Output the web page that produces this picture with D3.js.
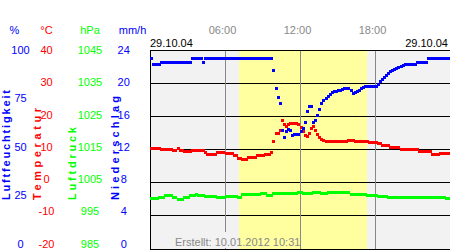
<!DOCTYPE html>
<html>
<head>
<meta charset="utf-8">
<script src="https://cdn.jsdelivr.net/npm/d3@7"></script>
<style>
  body { margin: 0; background: #fff; }
  svg { display: block; font-family: "Liberation Sans", Arial, sans-serif; }
</style>
</head>
<body>
<div id="chart"></div>
<script>
// Messwerte 29.10.04, alle 10 Minuten (00:00 .. 23:50)
var humidity = [
  96, 93, 93, 93, 93, 94, 94, 94, 94, 94, 94, 94,
  94, 94, 94, 94, 94, 94, 94, 94, 96, 96, 96, 96,
  96, 94, 96, 96, 96, 96, 96, 96, 96, 96, 96, 96,
  96, 96, 96, 96, 96, 96, 96, 96, 96, 96, 96, 96,
  96, 96, 96, 96, 96, 96, 96, 96, 96, 96, 96, 89.9,
  80.9, 76.4, 73.4, 59.8, 56.3, 59.3, 60.3, 59.8, 57.3, 57.8, 57.8, 57.8,
  59.3, 60.8, 63.8, 69.3, 71.9, 71.9, 63.8, 64.8, 67.3, 70.4, 73.4, 74.9,
  75.9, 76.9, 77.9, 78.9, 79.4, 79.4, 79.9, 79.9, 80.4, 80.9, 80.9, 80.9,
  79.9, 78.4, 78.9, 79.4, 79.9, 80.9, 81.4, 81.9, 81.9, 81.9, 81.9, 81.9,
  81.9, 82.9, 84.4, 85.4, 86.4, 87.4, 88.4, 89.4, 89.9, 90.5, 91.0, 91.5,
  92.0, 92.5, 93, 93, 93, 93, 93, 93, 94, 94, 94, 94,
  94, 96, 96, 96, 96, 96, 96, 96, 96, 96, 96, 96
];
var temperature = [
  10.5, 10.5, 10.5, 10.5, 10.5, 10.2, 10.2, 10.2, 10.2, 10.2, 10.2, 9.9,
  9.9, 10.5, 9.9, 9.9, 9.6, 9.6, 9.6, 9.6, 9.7, 9.7, 9.7, 9.7,
  9.7, 9.7, 9.3, 8.7, 8.7, 8.7, 8.7, 8.7, 9.1, 9.1, 9.1, 9.1,
  8.9, 8.9, 8.9, 8.9, 8.3, 8.3, 7.4, 7.4, 7.0, 7.0, 7.0, 7.7,
  7.7, 7.7, 7.7, 8.3, 8.3, 8.3, 8.3, 8.7, 8.7, 8.7, 9.3, 12.6,
  15.0, 15.0, 15.9, 18.9, 17.7, 17.1, 17.7, 18.0, 18.0, 18.0, 18.0, 17.7,
  16.8, 15.6, 14.4, 14.1, 15.0, 16.5, 17.1, 15.9, 14.7, 13.8, 13.2, 12.9,
  12.6, 12.6, 12.6, 12.6, 12.6, 12.6, 12.6, 12.6, 12.6, 12.6, 12.6, 13.0,
  13.0, 13.0, 12.6, 12.6, 12.6, 12.6, 12.6, 12.6, 12.6, 12.3, 12.3, 12.3,
  12.3, 12.0, 12.0, 11.4, 11.4, 11.4, 11.4, 10.9, 10.9, 10.9, 10.9, 10.9,
  10.2, 10.2, 10.2, 10.2, 10.2, 10.2, 10.2, 10.2, 10.2, 9.4, 9.4, 9.4,
  9.4, 9.4, 9.4, 8.7, 8.7, 8.7, 8.7, 8.9, 8.9, 8.9, 8.9, 8.9
];
var pressure = [
  1000.5, 1000.5, 1000.5, 1000.5, 1000.8, 1000.8, 1000.8, 1001.3, 1001.3, 1001.3, 1001.3, 1000.8,
  1000.8, 1000.2, 1000.2, 1000.2, 1000.8, 1000.8, 1000.8, 1001.4, 1001.4, 1001.4, 1001.6, 1001.4,
  1001.4, 1001.4, 1001.1, 1001.1, 1001.1, 1001.1, 1001.1, 1001.1, 1000.7, 1000.7, 1000.7, 1000.7,
  1001.1, 1001.1, 1001.1, 1001.1, 1001.1, 1001.1, 1000.7, 1000.7, 1001.7, 1001.7, 1001.7, 1001.7,
  1001.7, 1001.7, 1001.7, 1001.7, 1001.7, 1001.9, 1001.9, 1001.9, 1001.4, 1001.4, 1001.4, 1001.9,
  1001.9, 1001.9, 1001.9, 1001.9, 1002.0, 1002.0, 1002.0, 1002.0, 1002.0, 1002.0, 1002.0, 1002.3,
  1002.3, 1002.0, 1002.0, 1002.0, 1002.0, 1002.0, 1002.2, 1002.2, 1002.2, 1002.2, 1002.0, 1002.0,
  1002.0, 1002.3, 1002.3, 1002.2, 1002.2, 1002.2, 1002.2, 1002.2, 1002.2, 1002.2, 1002.2, 1002.2,
  1001.7, 1001.7, 1001.7, 1001.7, 1001.7, 1001.7, 1001.7, 1001.7, 1001.4, 1001.4, 1001.4, 1001.4,
  1001.4, 1001.1, 1001.1, 1001.1, 1001.1, 1001.1, 1000.8, 1000.8, 1000.8, 1000.8, 1000.8, 1000.7,
  1000.7, 1000.7, 1000.7, 1000.7, 1000.7, 1000.7, 1000.7, 1000.7, 1000.7, 1000.7, 1000.7, 1000.7,
  1000.7, 1000.7, 1000.7, 1000.7, 1000.7, 1000.8, 1000.8, 1000.8, 1000.8, 1000.8, 1000.4, 1000.4
];
// Niederschlag stündlich (kein Regen)
var rain = [0, 0, 0, 0, 0, 0, 0, 0, 0, 0, 0, 0, 0, 0, 0, 0, 0, 0, 0, 0, 0, 0, 0, 0];

var dayStart = 7.08, dayEnd = 17.32;   // Tageslicht in Stunden
var hourTicks = [6, 12, 18];
var humTicks = [100, 75, 50, 25, 0];
var tempTicks = [40, 30, 20, 10, 0, -10, -20];
var presTicks = [1045, 1035, 1025, 1015, 1005, 995, 985];
var rainTicks = [24, 20, 16, 12, 8, 4, 0];
var dateLabel = "29.10.04";
var createdLabel = "Erstellt: 10.01.2012 10:31";

var W = 450, H = 250;
var pLeft = 150, pTop = 50, pBottom = 249;

var svg = d3.select("#chart").append("svg")
  .attr("width", W)
  .attr("height", H);

var x = d3.scaleLinear().domain([0, 24]).range([pLeft + 0.5, W + 0.5]);
var yTemp = d3.scaleLinear().domain([-20, 40]).range([pBottom, pTop]);
var yHum = d3.scaleLinear().domain([0, 100]).range([pBottom, pTop]);
var yPres = d3.scaleLinear().domain([985, 1045]).range([pBottom, pTop]);
var yRain = d3.scaleLinear().domain([0, 24]).range([pBottom, pTop]);

// Beschriftungen sitzen etwas gestaucht neben dem Raster
var labelBottom = 243.7;
var lTemp = yTemp.copy().range([labelBottom, pTop]);
var lHum = yHum.copy().range([labelBottom, pTop]);
var lPres = yPres.copy().range([labelBottom, pTop]);
var lRain = yRain.copy().range([labelBottom, pTop]);

// Hintergrund
svg.append("rect")
  .attr("x", pLeft).attr("y", pTop)
  .attr("width", W - pLeft).attr("height", pBottom - pTop)
  .attr("fill", "#f2f2f2");

svg.append("rect")
  .attr("x", Math.round(x(dayStart)))
  .attr("y", pTop)
  .attr("width", Math.round(x(dayEnd)) - Math.round(x(dayStart)))
  .attr("height", pBottom - pTop)
  .attr("fill", "#ffffa0");

// horizontale Rasterlinien
svg.selectAll("line.h").data(tempTicks).enter().append("line")
  .attr("class", "h")
  .attr("x1", pLeft).attr("x2", W)
  .attr("y1", function (d) { return Math.floor(yTemp(d)) + 0.5; })
  .attr("y2", function (d) { return Math.floor(yTemp(d)) + 0.5; })
  .attr("stroke", "#000")
  .attr("stroke-width", 1);

// vertikale Rasterlinien
svg.selectAll("line.v").data(hourTicks).enter().append("line")
  .attr("class", "v")
  .attr("x1", function (d) { return Math.floor(x(d)) + 0.5; })
  .attr("x2", function (d) { return Math.floor(x(d)) + 0.5; })
  .attr("y1", pTop + 1).attr("y2", pBottom)
  .attr("stroke", "#888")
  .attr("stroke-width", 1);

svg.append("line")
  .attr("x1", pLeft + 0.5).attr("x2", pLeft + 0.5)
  .attr("y1", pTop).attr("y2", pBottom + 1)
  .attr("stroke", "#000");

// Erstellt-Feld
svg.append("rect")
  .attr("x", 166).attr("y", 232)
  .attr("width", Math.round(x(dayStart)) - 166).attr("height", 16)
  .attr("fill", "#f2f2f2");

svg.append("text")
  .attr("x", 175).attr("y", 245.5)
  .attr("font-size", "11px")
  .attr("fill", "#888")
  .text(createdLabel);

// Niederschlag (Balken)
svg.selectAll("rect.rain").data(rain).enter().append("rect")
  .attr("class", "rain")
  .attr("x", function (d, i) { return x(i); })
  .attr("width", x(1) - x(0))
  .attr("y", function (d) { return yRain(d); })
  .attr("height", function (d) { return pBottom - yRain(d); })
  .attr("fill", "#0000ff");

function drawDots(values, yScale, color) {
  svg.append("g")
    .attr("shape-rendering", "crispEdges")
    .selectAll("rect").data(values).enter().append("rect")
    .attr("x", function (d, i) { return Math.round(x(i / 6)) - 1; })
    .attr("y", function (d) { return Math.round(yScale(d)) - 1; })
    .attr("width", 3).attr("height", 3)
    .attr("fill", color);
}

drawDots(pressure, yPres, "#00ff00");
drawDots(temperature, yTemp, "#ff0000");
drawDots(humidity, yHum, "#0000ff");

// Kopfzeile
svg.append("text")
  .attr("x", pLeft).attr("y", 46.5)
  .attr("font-size", "11px").attr("fill", "#000")
  .text(dateLabel);
svg.append("text")
  .attr("x", 448).attr("y", 46.5)
  .attr("text-anchor", "end")
  .attr("font-size", "11px").attr("fill", "#000")
  .text(dateLabel);

svg.selectAll("text.hour").data(hourTicks).enter().append("text")
  .attr("class", "hour")
  .attr("x", function (d) { return x(d) - 3; })
  .attr("y", 34)
  .attr("text-anchor", "middle")
  .attr("font-size", "11px").attr("fill", "#888")
  .text(function (d) { return (d < 10 ? "0" : "") + d + ":00"; });

// Achsen links
var axes = [
  { unit: "%", ux: 14.5, tx: 20.5, ticks: humTicks, scale: lHum, color: "#0000ff",
    title: "Luftfeuchtigkeit", bx: 9.5, len: 110 },
  { unit: "°C", ux: 46.5, tx: 46.5, ticks: tempTicks, scale: lTemp, color: "#ff0000",
    title: "Temperatur", bx: 40.5, len: 92 },
  { unit: "hPa", ux: 90, tx: 90, ticks: presTicks, scale: lPres, color: "#00ff00",
    title: "Luftdruck", bx: 75.5, len: 73 },
  { unit: "mm/h", ux: 132.5, tx: 123.7, ticks: rainTicks, scale: lRain, color: "#0000ff",
    title: "Niederschlag", bx: 118.5, len: 104 }
];

axes.forEach(function (a) {
  var g = svg.append("g").attr("fill", a.color).attr("font-size", "11px");
  g.append("text")
    .attr("x", a.ux).attr("y", 34)
    .attr("text-anchor", "middle")
    .text(a.unit);
  g.selectAll("text.tick").data(a.ticks).enter().append("text")
    .attr("class", "tick")
    .attr("x", a.tx)
    .attr("y", function (d) { return a.scale(d) + 4; })
    .attr("text-anchor", "middle")
    .text(function (d) { return d; });
  g.append("text")
    .attr("transform", "translate(" + a.bx + ",200) rotate(-90)")
    .attr("font-weight", "bold")
    .attr("textLength", a.len)
    .attr("lengthAdjust", "spacing")
    .text(a.title);
});
</script>
</body>
</html>
